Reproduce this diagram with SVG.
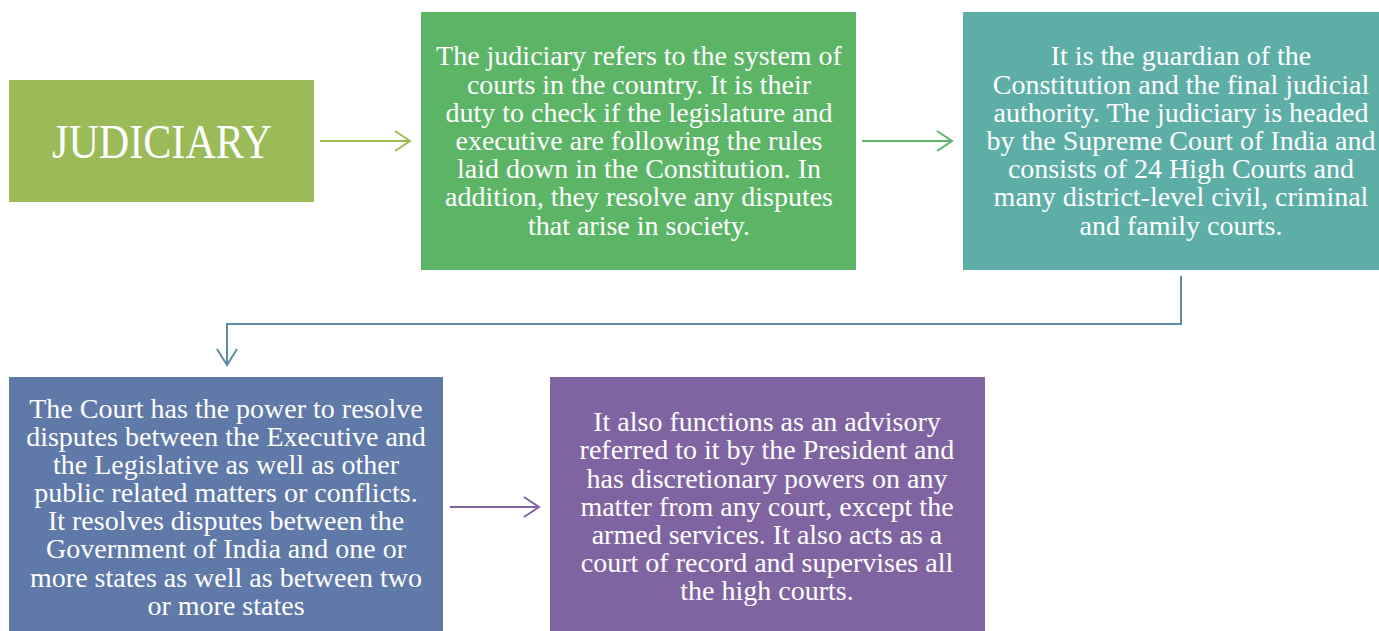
<svg xmlns="http://www.w3.org/2000/svg" width="1379" height="631" viewBox="0 0 1379 631">
  <style>
    .box { stroke: none; }
    .t { font-family: "Liberation Serif", "DejaVu Serif", serif; font-size: 28px; fill: #ffffff; text-anchor: middle; }
    .title { font-family: "Liberation Serif", "DejaVu Serif", serif; font-size: 48px; fill: #ffffff; text-anchor: middle; }
    .conn { fill: none; stroke-width: 2; }
  </style>
  <rect width="1379" height="631" fill="#ffffff"/>

  <g id="connectors">
    <!-- title to definition -->
    <path class="conn" stroke="#9bbb59" d="M320 141 H410 M395 131 L410 141 L395 151"/>
    <!-- definition to structure -->
    <path class="conn" stroke="#5cb56c" d="M862 141 H952 M937 131 L952 141 L937 151"/>
    <!-- structure down to court powers -->
    <path class="conn" stroke="#5f8ca8" d="M1181 276 V324 H227 V365 M217 349 L227 365 L237 349"/>
    <!-- court powers to advisory role -->
    <path class="conn" stroke="#8064a2" d="M450 507 H539 M524 497 L539 507 L524 517"/>
  </g>

  <g id="node-title">
    <rect class="box" x="9" y="80" width="305" height="122" fill="#9bbb59"/>
    <text class="title" x="162" y="158" textLength="220" lengthAdjust="spacingAndGlyphs">JUDICIARY</text>
  </g>

  <g id="node-definition">
    <rect class="box" x="421" y="12" width="435" height="258" fill="#5cb567"/>
    <text class="t" x="639" y="65">The judiciary refers to the system of</text>
    <text class="t" x="639" y="94">courts in the country. It is their</text>
    <text class="t" x="639" y="122">duty to check if the legislature and</text>
    <text class="t" x="639" y="150">executive are following the rules</text>
    <text class="t" x="639" y="178">laid down in the Constitution. In</text>
    <text class="t" x="639" y="206">addition, they resolve any disputes</text>
    <text class="t" x="639" y="235">that arise in society.</text>
  </g>

  <g id="node-structure">
    <rect class="box" x="963" y="12" width="416" height="258" fill="#5daea7"/>
    <text class="t" x="1181" y="65">It is the guardian of the</text>
    <text class="t" x="1181" y="94">Constitution and the final judicial</text>
    <text class="t" x="1181" y="122">authority. The judiciary is headed</text>
    <text class="t" x="1181" y="150">by the Supreme Court of India and</text>
    <text class="t" x="1181" y="178">consists of 24 High Courts and</text>
    <text class="t" x="1181" y="206">many district-level civil, criminal</text>
    <text class="t" x="1181" y="235">and family courts.</text>
  </g>

  <g id="node-powers">
    <rect class="box" x="9" y="377" width="434" height="254" fill="#5f79a9"/>
    <text class="t" x="226" y="418">The Court has the power to resolve</text>
    <text class="t" x="226" y="446">disputes between the Executive and</text>
    <text class="t" x="226" y="474">the Legislative as well as other</text>
    <text class="t" x="226" y="502">public related matters or conflicts.</text>
    <text class="t" x="226" y="530">It resolves disputes between the</text>
    <text class="t" x="226" y="558">Government of India and one or</text>
    <text class="t" x="226" y="587">more states as well as between two</text>
    <text class="t" x="226" y="615">or more states</text>
  </g>

  <g id="node-advisory">
    <rect class="box" x="550" y="377" width="435" height="254" fill="#8064a2"/>
    <text class="t" x="767" y="431">It also functions as an advisory</text>
    <text class="t" x="767" y="459">referred to it by the President and</text>
    <text class="t" x="767" y="488">has discretionary powers on any</text>
    <text class="t" x="767" y="516">matter from any court, except the</text>
    <text class="t" x="767" y="544">armed services. It also acts as a</text>
    <text class="t" x="767" y="572">court of record and supervises all</text>
    <text class="t" x="767" y="600">the high courts.</text>
  </g>
</svg>
